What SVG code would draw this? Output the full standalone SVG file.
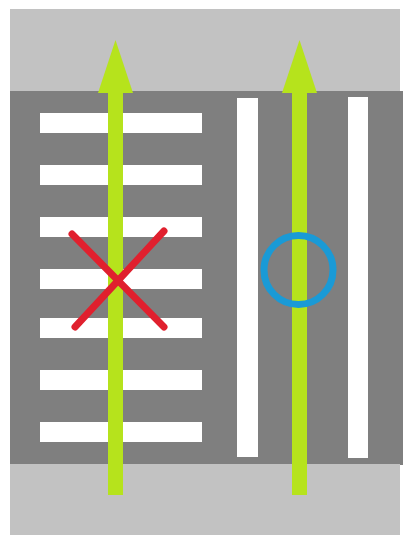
<svg xmlns="http://www.w3.org/2000/svg" width="404" height="535" viewBox="0 0 404 535">
  <style>
    .stripe { fill: #ffffff; }
    .arrow { fill: #b6e31c; }
  </style>
  <rect x="0" y="0" width="404" height="535" fill="#ffffff"/>
  <rect x="10" y="9" width="390" height="83" fill="#c2c2c2"/>
  <rect x="10" y="91" width="393" height="374" fill="#7f7f7f"/>
  <rect x="10" y="464" width="390" height="71" fill="#c2c2c2"/>
  <g id="zebra">
    <rect class="stripe" x="40" y="113" width="162" height="20"/>
    <rect class="stripe" x="40" y="165" width="162" height="20"/>
    <rect class="stripe" x="40" y="217" width="162" height="20"/>
    <rect class="stripe" x="40" y="269" width="162" height="20"/>
    <rect class="stripe" x="40" y="318" width="162" height="20"/>
    <rect class="stripe" x="40" y="370" width="162" height="20"/>
    <rect class="stripe" x="40" y="422" width="162" height="20"/>
  </g>
  <g id="lane-lines">
    <rect class="stripe" x="237" y="98" width="21" height="359"/>
    <rect class="stripe" x="348" y="97" width="20" height="361"/>
  </g>
  <g id="arrow-left">
    <rect class="arrow" x="108" y="85" width="15" height="410"/>
    <polygon class="arrow" points="115.5,40 133,93 98,93"/>
  </g>
  <g id="arrow-right">
    <rect class="arrow" x="292" y="85" width="15" height="410"/>
    <polygon class="arrow" points="299.5,40 317,93 282,93"/>
  </g>
  <g id="cross">
    <line x1="72" y1="234" x2="164" y2="327" stroke="#e0202e" stroke-width="7" stroke-linecap="round"/>
    <line x1="164" y1="231" x2="75" y2="327" stroke="#e0202e" stroke-width="7" stroke-linecap="round"/>
  </g>
  <g id="circle">
    <circle cx="298.5" cy="270" r="34.5" fill="none" stroke="#1a9ad6" stroke-width="7"/>
  </g>
</svg>
